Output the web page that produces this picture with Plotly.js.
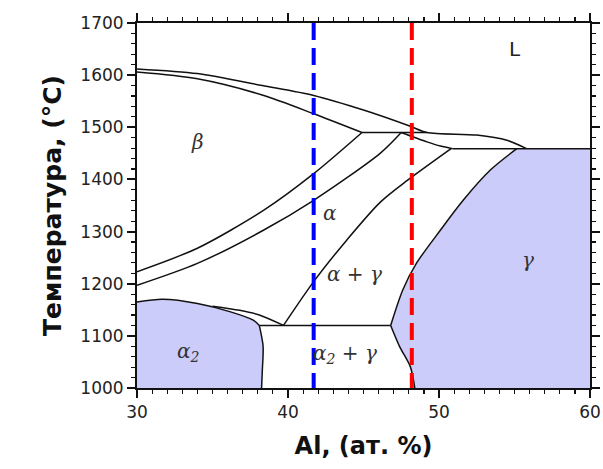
<!DOCTYPE html>
<html>
<head>
<meta charset="utf-8">
<script src="https://cdn.plot.ly/plotly-3.0.1.min.js"></script>
<style>html,body{margin:0;padding:0;background:#fff;}</style>
</head>
<body>
<div id="chart" style="width:603px;height:469px;"></div>
<script>
// Boundaries of the Ti-Al phase diagram (Al at.%, temperature °C)
const liquidusX = [30, 34, 38.3, 41.7, 45, 48.1, 49.2, 52.5, 54.5, 55.8];
const liquidusT = [1612, 1603, 1580, 1561, 1533, 1502, 1490, 1485, 1475, 1459];
const solidusX = [30, 34, 38.4, 41.7, 44.9];
const solidusT = [1606, 1593, 1561, 1526, 1490];
const peritectic1X = [44.9, 49.2];
const peritectic1T = [1490, 1490];
const betaTransusX = [30, 34, 38.4, 41.7, 44.9];
const betaTransusT = [1223, 1268, 1341, 1411, 1490];
const alphaTransusX = [30, 34, 38.4, 41.7, 46.1, 47.5];
const alphaTransusT = [1197, 1239, 1303, 1360, 1450, 1490];
const betaGammaX = [47.5, 49.2, 50.1, 50.9];
const betaGammaT = [1490, 1472, 1464, 1459];
const peritectic2X = [50.9, 60];
const peritectic2T = [1459, 1459];
const alphaGammaX = [39.7, 41.7, 43.9, 46.1, 47.9, 50.8];
const alphaGammaT = [1120, 1204, 1284, 1356, 1398, 1459];
const eutectoidX = [38.1, 46.8];
const eutectoidT = [1120, 1120];
const alpha2TopX = [30, 31.7, 34, 36.2, 37.7, 38.1];
const alpha2TopT = [1165, 1170, 1162, 1146, 1130, 1120];
const alpha2SideX = [38.1, 38.35, 38.3, 38.25];
const alpha2SideT = [1120, 1080, 1034, 1000];
const alphaAlpha2X = [35, 36.8, 38.1, 39.7];
const alphaAlpha2T = [1157, 1149, 1140, 1120];
const gammaUpperX = [55.15, 53.4, 51.6, 50.1, 48.5, 47.6, 46.8];
const gammaUpperT = [1459, 1418, 1360, 1303, 1239, 1188, 1120];
const gammaLowerX = [46.8, 47.4, 48.1, 48.4];
const gammaLowerT = [1120, 1079, 1041, 1000];
const alloy1X = [41.7, 41.7];
const alloy2X = [48.2, 48.2];
const alloyT = [1700, 1000];
const phaseLabels = ["L", "β", "α", "α + γ", "γ", "α<sub>2</sub>", "α<sub>2</sub> + γ"];
const xTicks = [30, 40, 50, 60];
const yTicks = [1000, 1100, 1200, 1300, 1400, 1500, 1600, 1700];
const xMin = 30, xMax = 60, tMin = 1000, tMax = 1700;

const fillColor = "rgb(204,204,250)";
const lineStyle = {color: "#111", width: 1.5, shape: "spline", smoothing: 0.8};
function line(x, y, straight) {
  const ls = Object.assign({}, lineStyle);
  if (straight) ls.shape = "linear";
  return {x: x, y: y, type: "scatter", mode: "lines", line: ls, hoverinfo: "skip", showlegend: false};
}
function region(x, y) {
  return {x: x, y: y, type: "scatter", mode: "lines", fill: "toself", fillcolor: fillColor,
          line: {width: 0, color: fillColor}, hoverinfo: "skip", showlegend: false};
}
// filled phase regions assembled from the boundary arrays
const alpha2RegX = alpha2TopX.concat(alpha2SideX.slice(1), [xMin]);
const alpha2RegT = alpha2TopT.concat(alpha2SideT.slice(1), [tMin]);
const gammaRegX = gammaUpperX.concat(gammaLowerX.slice(1), [xMax, xMax]);
const gammaRegT = gammaUpperT.concat(gammaLowerT.slice(1), [tMin, peritectic2T[1]]);

const traces = [
  region(alpha2RegX, alpha2RegT),
  region(gammaRegX, gammaRegT),
  line(liquidusX, liquidusT),
  line(solidusX, solidusT),
  line(peritectic1X, peritectic1T, true),
  line(betaTransusX, betaTransusT),
  line(alphaTransusX, alphaTransusT),
  line(betaGammaX, betaGammaT),
  line(peritectic2X, peritectic2T, true),
  line(alphaGammaX, alphaGammaT),
  line(eutectoidX, eutectoidT, true),
  line(alpha2TopX, alpha2TopT),
  line(alpha2SideX, alpha2SideT),
  line(alphaAlpha2X, alphaAlpha2T),
  line(gammaUpperX, gammaUpperT),
  line(gammaLowerX, gammaLowerT),
  {x: alloy1X, y: alloyT, type: "scatter", mode: "lines", line: {color: "rgb(0,0,255)", width: 4, dash: "17px,8px"}, showlegend: false},
  {x: alloy2X, y: alloyT, type: "scatter", mode: "lines", line: {color: "rgb(255,0,0)", width: 4, dash: "17px,8px"}, showlegend: false}
];

const labelPos = [[55.0, 1650], [34.0, 1471], [42.8, 1335], [44.4, 1219], [55.9, 1246], [33.4, 1069], [43.8, 1065]];
const labelFont = {family: "DejaVu Serif", size: 20, color: "#333", style: "italic"};
const annotations = phaseLabels.map((t, i) => ({
  x: labelPos[i][0], y: labelPos[i][1], text: t, showarrow: false,
  font: i === 0 ? {family: "DejaVu Sans", size: 20, color: "#222"} : labelFont
}));

const axisCommon = {
  showline: true, linecolor: "#111", linewidth: 2, mirror: "allticks",
  ticks: "outside", ticklen: 8, tickwidth: 2, tickcolor: "#111",
  showgrid: false, zeroline: false,
  tickfont: {family: "DejaVu Sans", size: 17, color: "#222"}
};
const layout = {
  width: 603, height: 469,
  margin: {l: 137, r: 13, t: 23, b: 81},
  paper_bgcolor: "#fff", plot_bgcolor: "#fff",
  showlegend: false,
  xaxis: Object.assign({}, axisCommon, {
    range: [xMin, xMax], tickvals: xTicks,
    minor: {dtick: 1, tick0: 30, ticks: "outside", ticklen: 4, tickwidth: 1.2, tickcolor: "#111"},
    title: {text: "<b>Al, (ат. %)</b>", font: {family: "DejaVu Sans", size: 24, color: "#111"}, standoff: 16}
  }),
  yaxis: Object.assign({}, axisCommon, {
    range: [tMin, tMax], tickvals: yTicks,
    minor: {dtick: 20, tick0: 1000, ticks: "outside", ticklen: 4, tickwidth: 1.2, tickcolor: "#111"},
    title: {text: "<b>Температура, (°C)</b>", font: {family: "DejaVu Sans", size: 25, color: "#111"}, standoff: 12}
  }),
  annotations: annotations
};
Plotly.newPlot("chart", traces, layout, {displayModeBar: false, staticPlot: true});
</script>
</body>
</html>
